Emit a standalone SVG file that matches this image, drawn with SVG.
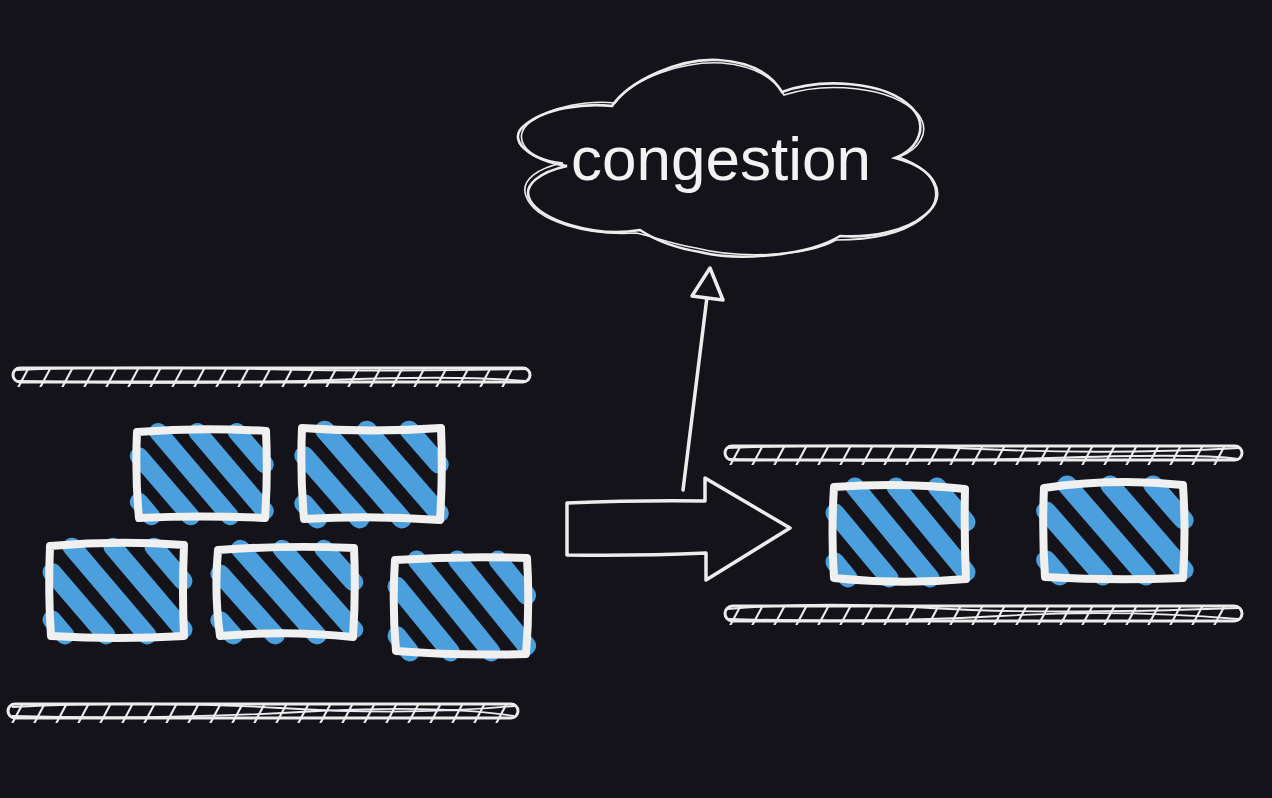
<svg xmlns="http://www.w3.org/2000/svg" width="1272" height="798" viewBox="0 0 1272 798">
  <defs>
    <g id="stripes">
      <path d="M2 77 L15 93 M2 28 L56 93 M22 2 L97 93 M63 2 L133 87 M104 2 L133 37"/>
    </g>
  </defs>
  <style>
    .bg { fill: #141319; }
    .rail { fill: none; stroke: #ececec; stroke-width: 3; }
    .rail2 { fill: none; stroke: #ececec; stroke-width: 1.8; }
    .tick { fill: none; stroke: #ececec; stroke-width: 18; stroke-dasharray: 2.4 19.6; }
    .hatch { fill: none; stroke: #4a9fdc; stroke-width: 19; stroke-linecap: round; }
    .box { fill: none; stroke: #f0f0f0; stroke-width: 8; stroke-linejoin: round; stroke-linecap: round; }
    .cloud { fill: none; stroke: #ececec; stroke-width: 2.6; }
    .cloud2 { fill: none; stroke: #ececec; stroke-width: 1.6; }
    .label { font-family: "Liberation Sans", Helvetica, Arial, sans-serif; font-size: 62px; fill: #f2f2f2; }
    .conn { fill: none; stroke: #ececec; stroke-width: 3.5; stroke-linejoin: round; stroke-linecap: round; }
    .head { fill: #141319; stroke: #ececec; stroke-width: 3.5; stroke-linejoin: round; }
    .block { fill: #141319; stroke: #ececec; stroke-width: 3.5; stroke-linejoin: round; }
  </style>
  <rect class="bg" x="0" y="0" width="1272" height="798"/>

  <!-- lanes -->
  <g id="lane-left-top">
    <line class="tick" x1="22" y1="378" x2="522" y2="378" transform="translate(0 378) skewX(-28) translate(0 -378)"/>
    <rect class="rail" x="13" y="368" width="517" height="14" rx="7"/>
    <path class="rail2" d="M16 370 Q120 366 260 369 T527 369 M18 381 Q200 385 330 380 T526 381"/>
  </g>
  <g id="lane-left-bottom">
    <line class="tick" x1="16" y1="714" x2="512" y2="714" transform="translate(0 714) skewX(-28) translate(0 -714)"/>
    <rect class="rail" x="8" y="704" width="510" height="14" rx="7"/>
    <path class="rail2" d="M12 707 Q150 700 280 708 T515 706 M12 716 Q160 720 300 712 T514 716"/>
  </g>
  <g id="lane-right-top">
    <line class="tick" x1="734" y1="456" x2="1236" y2="456" transform="translate(0 456) skewX(-28) translate(0 -456)"/>
    <rect class="rail" x="725" y="446" width="517" height="14" rx="7"/>
    <path class="rail2" d="M728 448 Q850 443 980 449 T1239 448 M729 459 Q900 463 1050 458 T1238 459"/>
  </g>
  <g id="lane-right-bottom">
    <line class="tick" x1="734" y1="616" x2="1236" y2="616" transform="translate(0 616) skewX(-28) translate(0 -616)"/>
    <rect class="rail" x="725" y="606" width="517" height="15" rx="7.5"/>
    <path class="rail2" d="M728 609 Q820 601 930 608 T1239 608 M729 619 Q880 623 1000 616 T1238 619"/>
  </g>

  <!-- cars -->
  <g id="car-a">
    <use href="#stripes" class="hatch" transform="translate(137 430) scale(0.96 0.93)"/>
    <path class="box" d="M137 432 Q200 427 266 431 Q268 476 265 518 Q200 515 139 518 Q135 476 137 432 Z"/>
  </g>
  <g id="car-b">
    <use href="#stripes" class="hatch" transform="translate(302 428) scale(1.03 0.98)"/>
    <path class="box" d="M302 428 Q372 433 441 428 Q443 474 440 520 Q372 515 304 519 Q300 474 302 428 Z"/>
  </g>
  <g id="car-c">
    <use href="#stripes" class="hatch" transform="translate(50 545) scale(1.0 0.97)"/>
    <path class="box" d="M50 546 Q118 540 184 545 Q182 592 184 636 Q118 640 51 636 Q48 592 50 546 Z"/>
  </g>
  <g id="car-d">
    <use href="#stripes" class="hatch" transform="translate(218 547) scale(1.02 0.95)"/>
    <path class="box" d="M218 550 Q286 545 354 548 Q356 592 353 637 Q286 630 220 636 Q214 592 218 550 Z"/>
  </g>
  <g id="car-e">
    <use href="#stripes" class="hatch" transform="translate(395 558) scale(0.99 1.01)"/>
    <path class="box" d="M395 560 Q460 556 527 558 Q530 605 526 654 Q460 656 396 651 Q392 605 395 560 Z"/>
  </g>
  <g id="car-f">
    <use href="#stripes" class="hatch" transform="translate(833 485) scale(1.0 1.0)"/>
    <path class="box" d="M834 487 Q900 482 965 489 Q964 534 966 579 Q900 585 834 578 Q831 534 834 487 Z"/>
  </g>
  <g id="car-g">
    <use href="#stripes" class="hatch" transform="translate(1044 483) scale(1.05 1.0)"/>
    <path class="box" d="M1044 488 Q1114 478 1183 485 Q1186 532 1183 578 Q1114 581 1045 577 Q1042 532 1044 488 Z"/>
  </g>

  <!-- cloud -->
  <g id="cloud-congestion">
    <path class="cloud" d="M567 166 C530 160 505 140 525 125 C545 108 585 103 612 106 C630 80 680 58 718 60 C752 62 772 75 782 92 C820 78 885 80 912 108 C928 125 920 148 895 158 C935 168 950 195 925 215 C905 232 870 238 840 236 C810 255 740 262 700 252 C675 248 655 240 640 230 C595 238 540 220 530 200 C522 185 540 172 567 166 Z"/>
    <path class="cloud2" d="M563 163 C522 158 512 136 530 122 C552 106 590 100 615 103 C634 77 684 61 722 63 C756 66 775 79 784 95 C825 82 890 85 918 114 C932 132 918 150 899 157 C940 172 946 200 920 220 C898 236 865 240 836 240 C804 258 735 258 696 248 C670 244 652 236 636 233 C590 236 535 222 526 196 C520 180 538 168 563 163 Z"/>
    <text class="label" x="571" y="180">congestion</text>
  </g>

  <!-- connectors -->
  <g id="connectors">
    <path class="block" d="M567 503 Q640 500 705 501 L705 478 L790 528 L706 580 L706 553 Q640 556 567 555 Z"/>
    <line class="conn" x1="683" y1="490" x2="707" y2="297"/>
    <path class="head" d="M710 268 L692 296 L723 300 Z"/>
  </g>
</svg>
